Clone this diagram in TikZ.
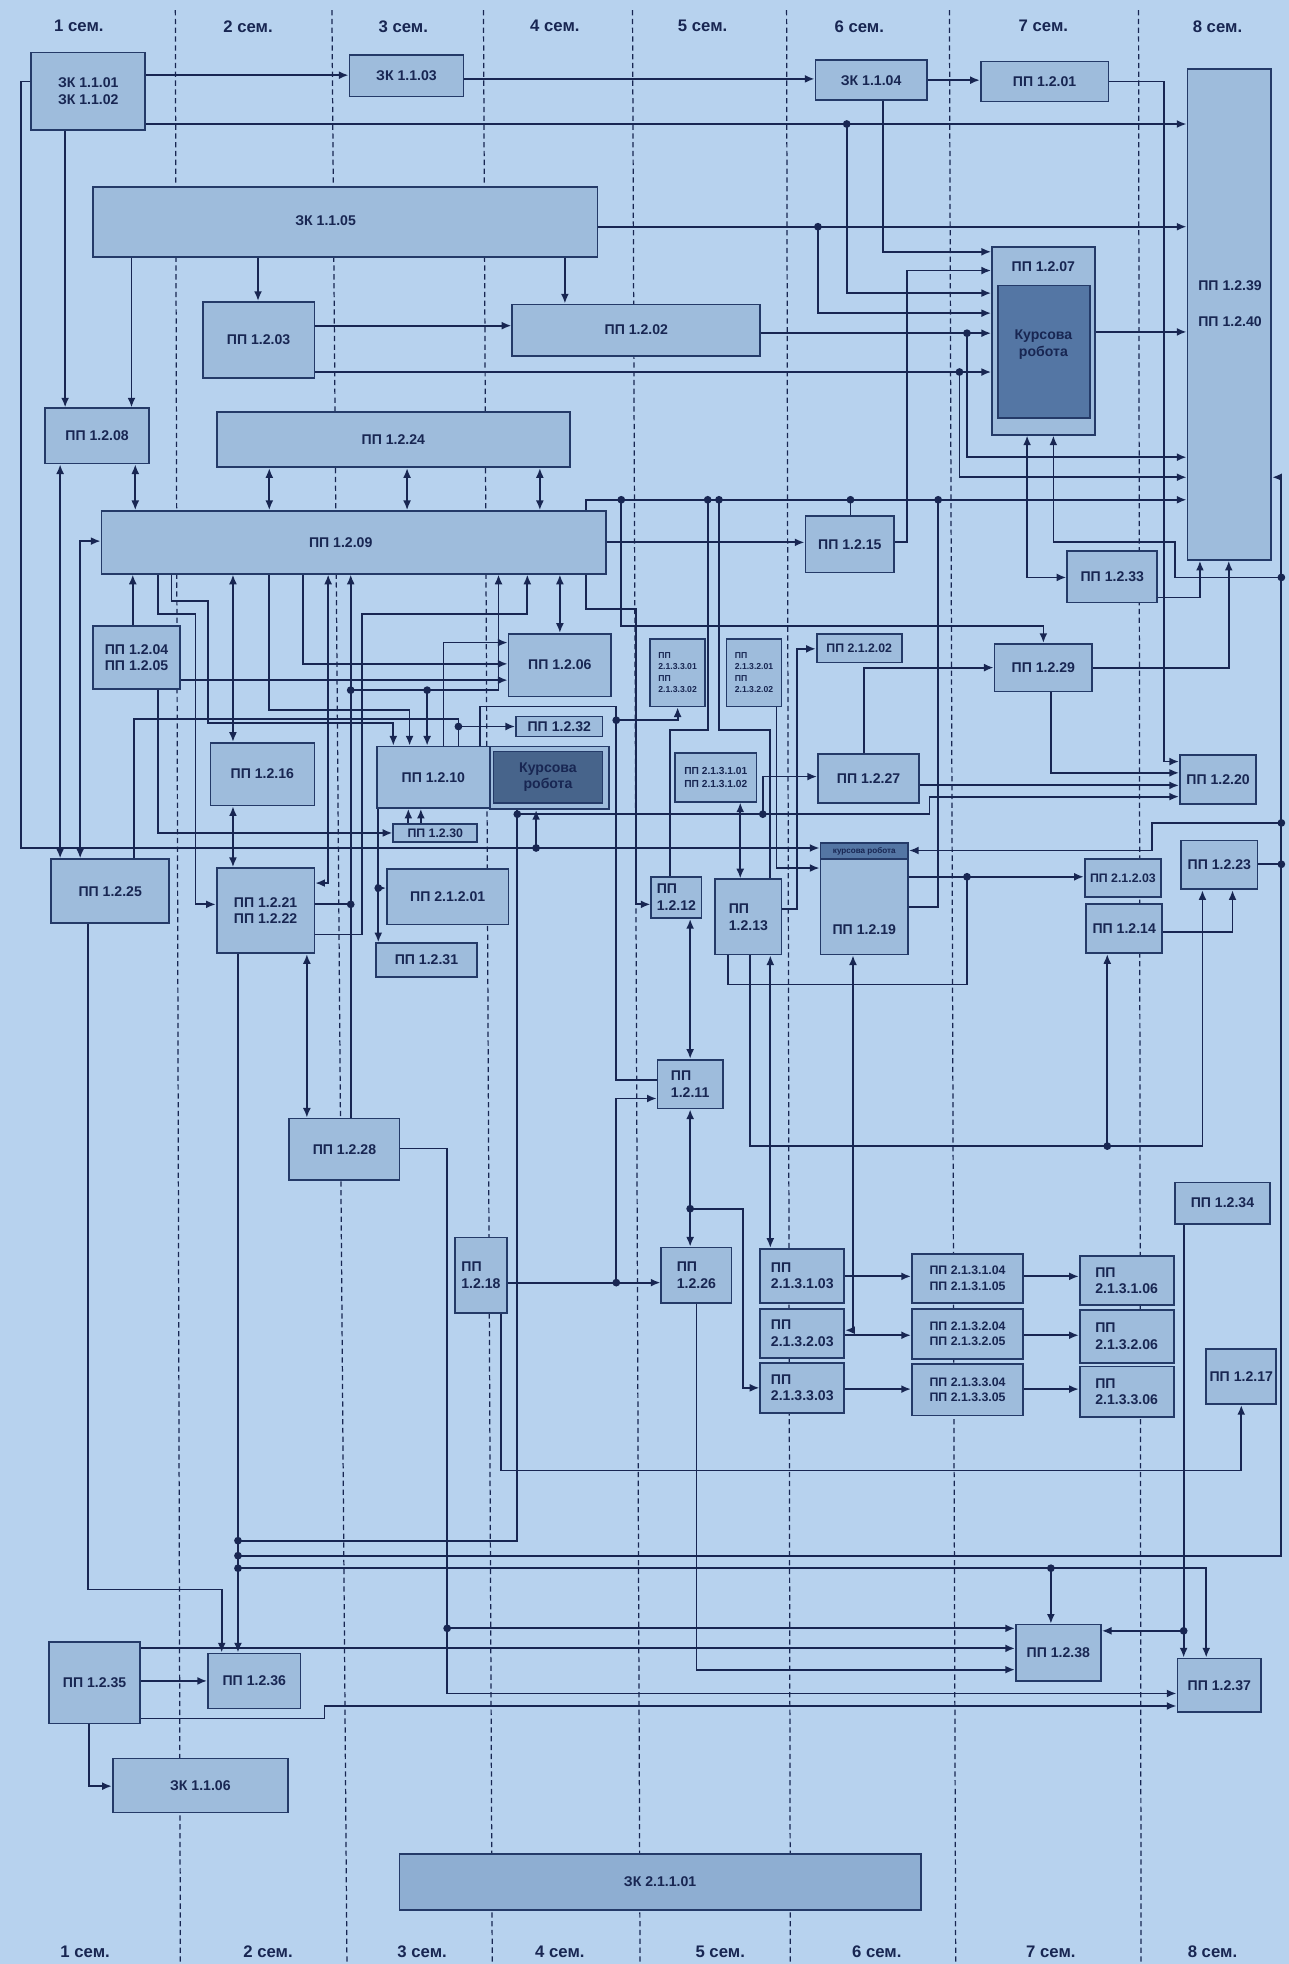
\documentclass[tikz,border=0pt]{standalone}
\usepackage{fontspec}
\setmainfont{Liberation Sans}
\usetikzlibrary{arrows.meta, fit}

\definecolor{bgc}{RGB}{183,210,238}
\definecolor{boxc}{RGB}{158,188,220}
\definecolor{edge}{RGB}{36,58,104}
\definecolor{ink}{RGB}{24,38,82}
\definecolor{kurs}{RGB}{84,118,164}
\definecolor{barc}{RGB}{142,174,210}

\tikzset{
  box/.style={draw=edge, fill=boxc, line width=1pt, inner sep=0pt},
  lbl/.style={text=ink, font=\bfseries\fontsize{8}{9.5}\selectfont, align=center, inner sep=0pt},
  fsmall/.style={font=\bfseries\fontsize{5.8}{7.2}\selectfont},
  fseven/.style={font=\bfseries\fontsize{7}{8.6}\selectfont},
  ftiny/.style={font=\bfseries\fontsize{4.9}{6.5}\selectfont},
  con/.style={draw=ink, line width=1pt},
  ar/.style={con, -{Latex[length=5.5pt,width=4.5pt]}},
  ra/.style={con, {Latex[length=5.5pt,width=4.5pt]}-},
  arr/.style={con, {Latex[length=5.5pt,width=4.5pt]}-{Latex[length=5.5pt,width=4.5pt]}},
  divider/.style={draw=ink, line width=0.7pt, dash pattern=on 3pt off 2pt},
  sem/.style={text=ink, font=\bfseries\fontsize{9.5}{11}\selectfont}
}

\begin{document}
\begin{tikzpicture}[x=0.025cm, y=-0.025cm]
  \useasboundingbox (0,0) rectangle (1029,1568);
  \fill[bgc] (0,0) rectangle (1029,1568);

  % semesters
  \foreach \a/\b in {140/144, 265/277, 386/393, 505/511, 628/631, 758/763, 909/911}
    \draw[divider] (\a,8) -- (\b,1568);
  \foreach \n/\x in {1/63, 2/198, 3/322, 4/443, 5/561, 6/686, 7/833, 8/972}
    \node[sem] (top\n) at (\x,21) {\n~сем.};
  \foreach \n/\x in {1/68, 2/214, 3/337, 4/447, 5/575, 6/700, 7/839, 8/968}
    \node[sem] (bot\n) at (\x,1558) {\n~сем.};

  % blocks
  \node[box, fit={(25,42) (116,104)}] (zk0102) {};
  \node[lbl] (zk0102t) at (zk0102) {ЗК 1.1.01\\ЗК 1.1.02};
  \node[box, fit={(279,44) (370,77)}] (zk03) {};
  \node[lbl] (zk03t) at (zk03) {ЗК 1.1.03};
  \node[box, fit={(651,48) (740,80)}] (zk04) {};
  \node[lbl] (zk04t) at (zk04) {ЗК 1.1.04};
  \node[box, fit={(783,49) (885,81)}] (pp01) {};
  \node[lbl] (pp01t) at (pp01) {ПП 1.2.01};
  \node[box, fit={(948,55) (1015,447)}] (pp3940) {};
  \node[lbl] (t39) at (982,228) {ПП 1.2.39};
  \node[lbl] (t40) at (982,257) {ПП 1.2.40};
  \node[box, fit={(74,149) (477,205)}] (zk05) {};
  \node[lbl] (zk05t) at (260,176) {ЗК 1.1.05};
  \node[box, fit={(162,241) (251,302)}] (pp03) {};
  \node[lbl] (pp03t) at (pp03) {ПП 1.2.03};
  \node[box, fit={(409,243) (607,284)}] (pp02) {};
  \node[lbl] (pp02t) at (pp02) {ПП 1.2.02};
  \node[box, fit={(792,197) (874,347)}] (pp07) {};
  \node[box, fill=kurs, fit={(797,228) (870,334)}] (pp07k) {};
  \node[lbl] (pp07kt) at (833,275) {Курсова\\робота};
  \node[lbl] (t07) at (833,213) {ПП 1.2.07};
  \node[box, fit={(36,326) (119,370)}] (pp08) {};
  \node[lbl] (pp08t) at (pp08) {ПП 1.2.08};
  \node[box, fit={(173,329) (455,373)}] (pp24) {};
  \node[lbl] (pp24t) at (pp24) {ПП 1.2.24};
  \node[box, fit={(81,408) (484,458)}] (pp09) {};
  \node[lbl] (pp09t) at (272,433) {ПП 1.2.09};
  \node[box, fit={(643,412) (714,457)}] (pp15) {};
  \node[lbl] (pp15t) at (pp15) {ПП 1.2.15};
  \node[box, fit={(852,440) (924,481)}] (pp33) {};
  \node[lbl] (pp33t) at (pp33) {ПП 1.2.33};
  \node[box, fit={(74,500) (144,550)}] (pp0405) {};
  \node[lbl] (pp0405t) at (pp0405) {ПП 1.2.04\\ПП 1.2.05};
  \node[box, fit={(406,506) (488,556)}] (pp06) {};
  \node[lbl] (pp06t) at (pp06) {ПП 1.2.06};
  \node[box, fit={(519,510) (563,564)}] (pp3301) {};
  \node[lbl, ftiny, align=left] (pp3301t) at (pp3301) {ПП\\2.1.3.3.01\\ПП\\2.1.3.3.02};
  \node[box, fit={(580,510) (624,564)}] (pp3201) {};
  \node[lbl, ftiny, align=left] (pp3201t) at (pp3201) {ПП\\2.1.3.2.01\\ПП\\2.1.3.2.02};
  \node[box, fit={(652,506) (720,529)}] (pp2202) {};
  \node[lbl, fseven] (pp2202t) at (pp2202) {ПП 2.1.2.02};
  \node[box, fit={(794,514) (872,552)}] (pp29) {};
  \node[lbl] (pp29t) at (pp29) {ПП 1.2.29};
  \node[box, fit={(168,593) (251,643)}] (pp16) {};
  \node[lbl] (pp16t) at (pp16) {ПП 1.2.16};
  \node[box, fit={(301,596) (391,645)}] (pp10) {};
  \node[lbl] (pp10t) at (pp10) {ПП 1.2.10};
  \node[box, fit={(391,596) (486,646)}] (pp10k) {};
  \node[box, fill=kurs!85!black, fit={(394,600) (481,641)}] (pp10r) {};
  \node[lbl] (pp10rt) at (pp10r) {Курсова\\робота};
  \node[box, fit={(412,572) (481,588)}] (pp32) {};
  \node[lbl] (pp32t) at (pp32) {ПП 1.2.32};
  \node[box, fit={(314,658) (381,672)}] (pp30) {};
  \node[lbl, fseven] (pp30t) at (pp30) {ПП 1.2.30};
  \node[box, fit={(539,601) (604,640)}] (pp3101) {};
  \node[lbl, fsmall] (pp3101t) at (pp3101) {ПП 2.1.3.1.01\\ПП 2.1.3.1.02};
  \node[box, fit={(653,602) (734,641)}] (pp27) {};
  \node[lbl] (pp27t) at (pp27) {ПП 1.2.27};
  \node[box, fit={(942,603) (1003,642)}] (pp20) {};
  \node[lbl] (pp20t) at (pp20) {ПП 1.2.20};
  \node[box, fit={(41,686) (135,737)}] (pp25) {};
  \node[lbl] (pp25t) at (pp25) {ПП 1.2.25};
  \node[box, fit={(173,693) (251,761)}] (pp2122) {};
  \node[lbl] (pp2122t) at (pp2122) {ПП 1.2.21\\ПП 1.2.22};
  \node[box, fit={(309,694) (406,738)}] (pp2201) {};
  \node[lbl] (pp2201t) at (pp2201) {ПП 2.1.2.01};
  \node[box, fit={(300,753) (381,780)}] (pp31) {};
  \node[lbl] (pp31t) at (pp31) {ПП 1.2.31};
  \node[box, fit={(520,700) (560,733)}] (pp12) {};
  \node[lbl, align=left] (pp12t) at (pp12) {ПП\\1.2.12};
  \node[box, fit={(571,702) (624,762)}] (pp13) {};
  \node[lbl, align=left] (pp13t) at (pp13) {ПП\\1.2.13};
  \node[box, fit={(655,686) (725,762)}] (pp19) {};
  \node[box, fill=kurs, fit={(655,673) (725,686)}] (pp19k) {};
  \node[lbl, font=\bfseries\fontsize{4.6}{5}\selectfont] (pp19kt) at (pp19k) {курсова робота};
  \node[lbl] (t19) at (690,742) {ПП 1.2.19};
  \node[box, fit={(866,686) (927,716)}] (pp2203) {};
  \node[lbl, fseven] (pp2203t) at (pp2203) {ПП 2.1.2.03};
  \node[box, fit={(943,671) (1004,710)}] (pp23) {};
  \node[lbl] (pp23t) at (pp23) {ПП 1.2.23};
  \node[box, fit={(867,722) (928,761)}] (pp14) {};
  \node[lbl] (pp14t) at (pp14) {ПП 1.2.14};
  \node[box, fit={(525,846) (577,885)}] (pp11) {};
  \node[lbl, align=left] (pp11t) at (pp11) {ПП\\1.2.11};
  \node[box, fit={(231,893) (319,942)}] (pp28) {};
  \node[lbl] (pp28t) at (pp28) {ПП 1.2.28};
  \node[box, fit={(363,988) (405,1048)}] (pp18) {};
  \node[lbl, align=left] (pp18t) at (pp18) {ПП\\1.2.18};
  \node[box, fit={(528,996) (584,1040)}] (pp26) {};
  \node[lbl, align=left] (pp26t) at (pp26) {ПП\\1.2.26};
  \node[box, fit={(607,997) (674,1040)}] (pp313) {};
  \node[lbl, align=left] (pp313t) at (pp313) {ПП\\2.1.3.1.03};
  \node[box, fit={(607,1045) (674,1084)}] (pp323) {};
  \node[lbl, align=left] (pp323t) at (pp323) {ПП\\2.1.3.2.03};
  \node[box, fit={(607,1088) (674,1128)}] (pp333) {};
  \node[lbl, align=left] (pp333t) at (pp333) {ПП\\2.1.3.3.03};
  \node[box, fit={(728,1001) (817,1040)}] (pp314) {};
  \node[lbl, fseven] (pp314t) at (pp314) {ПП 2.1.3.1.04\\ПП 2.1.3.1.05};
  \node[box, fit={(728,1045) (817,1085)}] (pp324) {};
  \node[lbl, fseven] (pp324t) at (pp324) {ПП 2.1.3.2.04\\ПП 2.1.3.2.05};
  \node[box, fit={(728,1089) (817,1130)}] (pp334) {};
  \node[lbl, fseven] (pp334t) at (pp334) {ПП 2.1.3.3.04\\ПП 2.1.3.3.05};
  \node[box, fit={(862,1003) (937,1042)}] (pp316) {};
  \node[lbl, align=left] (pp316t) at (pp316) {ПП\\2.1.3.1.06};
  \node[box, fit={(862,1046) (937,1088)}] (pp326) {};
  \node[lbl, align=left] (pp326t) at (pp326) {ПП\\2.1.3.2.06};
  \node[box, fit={(862,1091) (937,1131)}] (pp336) {};
  \node[lbl, align=left] (pp336t) at (pp336) {ПП\\2.1.3.3.06};
  \node[box, fit={(938,944) (1014,977)}] (pp34) {};
  \node[lbl] (pp34t) at (pp34) {ПП 1.2.34};
  \node[box, fit={(963,1077) (1019,1121)}] (pp17) {};
  \node[lbl] (pp17t) at (pp17) {ПП 1.2.17};
  \node[box, fit={(39,1311) (112,1376)}] (pp35) {};
  \node[lbl] (pp35t) at (pp35) {ПП 1.2.35};
  \node[box, fit={(166,1320) (240,1364)}] (pp36) {};
  \node[lbl] (pp36t) at (pp36) {ПП 1.2.36};
  \node[box, fit={(90,1404) (230,1447)}] (zk06) {};
  \node[lbl] (zk06t) at (zk06) {ЗК 1.1.06};
  \node[box, fill=barc, fit={(319,1480) (735,1525)}] (zk21) {};
  \node[lbl] (zk21t) at (zk21) {ЗК 2.1.1.01};
  \node[box, fit={(811,1297) (879,1342)}] (pp38) {};
  \node[lbl] (pp38t) at (pp38) {ПП 1.2.38};
  \node[box, fit={(940,1324) (1007,1367)}] (pp37) {};
  \node[lbl] (pp37t) at (pp37) {ПП 1.2.37};

  % top links
  \draw[ar] (zk0102.east|-0,60) -- (zk03.west|-0,60);
  \draw[ar] (zk03.east|-0,63) -- (zk04.west|-0,63);
  \draw[ar] (zk04.east|-0,64) -- (pp01.west|-0,64);
  \draw[ar] (zk0102.east|-0,99) -- (pp3940.west|-0,99);
  \draw[ar] (676,99) |- (pp07.west|-0,234);
  \draw[ar] (zk04.south-|705,0) |- (pp07.west|-0,201);
  \draw[ar] (zk05.east|-0,181) -- (pp3940.west|-0,181);
  \draw[ar] (653,181) |- (pp07.west|-0,250);
  \draw[ar] (zk0102.south-|52,0) -- (pp08.north-|52,0);
  \draw[ar] (zk05.south-|105,0) -- (pp08.north-|105,0);
  \draw[ar] (zk05.south-|206,0) -- (pp03.north-|206,0);
  \draw[ar] (zk05.south-|451,0) -- (pp02.north-|451,0);
  \draw[ar] (pp03.east|-0,260) -- (pp02.west|-0,260);
  \draw[ar] (pp02.east|-0,266) -- (pp07.west|-0,266);
  \draw[ar] (772,266) |- (pp3940.west|-0,365);
  \draw[ar] (pp03.east|-0,297) -- (pp07.west|-0,297);
  \draw[ar] (766,297) |- (pp3940.west|-0,381);
  \draw[ar] (pp07.east|-0,265) -- (pp3940.west|-0,265);
  \draw[ar] (pp01.east|-0,65) -| (929,608) -- (pp20.west|-0,608);
  \draw[ar] (pp15.east|-0,433) -| (724,216) -- (pp07.west|-0,216);
  \draw[ar] (pp09.east|-0,433) -- (pp15.west|-0,433);
  \draw[arr] (pp07.south-|820,0) |- (pp33.west|-0,461);
  \draw[ra] (pp07.south-|841,0) |- (938,433) |- (1023,461);
  \draw[ar] (pp33.east|-0,477) -| (pp3940.south-|958,0);
  \draw[ar] (pp29.east|-0,533) -| (pp3940.south-|981,0);
  \draw[ra] (pp3940.east|-0,381) -| (1023,1242) -- (190,1242);
  \draw[ar] (1023,657) -| (920,679) -- (pp19k.east|-0,679);
  \draw[con] (pp23.east|-0,690) -- (1023,690);

  % line along the top of the middle
  \draw[ar] (pp09.north-|468,0) |- (pp3940.west|-0,399);
  \draw[con] (pp19.east|-0,724) -| (749,399);
  \draw[con] (pp12.north-|535,0) |- (565,583) -- (565,399);
  \draw[con] (pp13.north-|615,0) |- (574,583) -- (574,399);
  \draw[con] (pp15.north-|679,0) -- (679,399);
  \draw[ar] (496,399) |- (833,500) -- (pp29.north-|833,0);

  % left and middle
  \draw[arr] (pp08.south-|48,0) -- (pp25.north-|48,0);
  \draw[arr] (pp08.south-|108,0) -- (pp09.north-|108,0);
  \foreach \x in {215,325,431}
    \draw[arr] (pp24.south-|\x,0) -- (pp09.north-|\x,0);
  \draw[arr] (pp09.west|-0,432) -| (pp25.north-|64,0);
  \draw[ar] (zk0102.west|-0,65) -| (17,677) -- (pp19k.west|-0,677);
  \draw[ar] (428,677) -- (pp10k.south-|428,0);
  \draw[ar] (pp0405.north-|106,0) -- (pp09.south-|106,0);
  \draw[ar] (pp0405.east|-0,543) -- (pp06.west|-0,543);
  \draw[ar] (pp0405.south-|126,0) |- (pp30.west|-0,665);
  \draw[ar] (pp09.south-|126,0) |- (156,490) |- (pp2122.west|-0,722);
  \draw[ar] (pp09.south-|137,0) |- (166,480) |- (314,577) -- (pp10.north-|314,0);
  \draw[arr] (pp09.south-|186,0) -- (pp16.north-|186,0);
  \draw[arr] (pp16.south-|186,0) -- (pp2122.north-|186,0);
  \draw[ar] (pp09.south-|215,0) |- (327,567) -- (pp10.north-|327,0);
  \draw[ar] (pp09.south-|242,0) |- (pp06.west|-0,530);
  \draw[arr] (pp09.south-|262,0) |- (pp2122.east|-0,705);
  \draw[ra] (pp09.south-|280,0) -- (pp28.north-|280,0);
  \draw[con] (pp2122.east|-0,722) -- (280,722);
  \draw[ra] (pp09.south-|398,0) |- (280,551);
  \draw[ar] (341,551) -- (pp10.north-|341,0);
  \draw[ra] (pp09.south-|421,0) |- (289,490) |- (pp2122.east|-0,746);
  \draw[arr] (pp09.south-|447,0) -- (pp06.north-|447,0);
  \draw[ar] (pp10.north-|354,0) |- (pp06.west|-0,513);
  \draw[ar] (pp25.north-|107,0) |- (366,574) |- (pp32.west|-0,580);
  \draw[con] (pp10.north-|366,0) -- (366,580);
  \draw[con] (pp10.north-|383,0) |- (492,564) |- (pp11.west|-0,862);
  \draw[ar] (492,575) -| (pp3301.south-|541,0);
  \draw[ar] (pp09.south-|468,0) |- (508,486) |- (pp12.west|-0,722);
  \draw[ar] (pp10.south-|302,0) -- (pp31.north-|302,0);
  \draw[ar] (302,709) -- (pp2201.west|-0,709);
  \draw[ar] (pp30.north-|326,0) -- (pp10.south-|326,0);
  \draw[ar] (pp30.north-|336,0) -- (pp10.south-|336,0);
  \draw[con] (pp10k.south-|413,0) |- (190,1230);
  \draw[ar] (413,650) -| (742,636) -- (pp20.west|-0,636);
  \draw[ar] (609,650) |- (pp27.west|-0,620);
  \draw[ar] (pp27.east|-0,627) -- (pp20.west|-0,627);
  \draw[ar] (pp29.south-|839,0) |- (pp20.west|-0,617);
  \draw[ar] (pp27.north-|690,0) |- (pp29.west|-0,533);
  \draw[ar] (pp13.east|-0,726) -| (636,518) -- (pp2202.west|-0,518);
  \draw[ar] (pp3201.south-|620,0) |- (pp19.west|-0,693);
  \draw[arr] (pp3101.south-|591,0) -- (pp13.north-|591,0);
  \draw[arr] (pp11.north-|551,0) -- (pp12.south-|551,0);
  \draw[arr] (pp11.south-|551,0) -- (pp26.north-|551,0);
  \draw[ar] (551,965) -| (593,1108) -- (pp333.west|-0,1108);
  \draw[arr] (pp13.south-|615,0) -- (pp313.north-|615,0);
  \draw[ar] (pp13.south-|599,0) |- (960,915) -- (pp23.south-|960,0);
  \draw[ar] (884,915) -- (pp14.south-|884,0);
  \draw[ar] (pp14.east|-0,744) -| (pp23.south-|984,0);
  \draw[con] (pp13.south-|581,0) |- (772,786) -- (772,700);
  \draw[ar] (pp19.east|-0,700) -- (pp2203.west|-0,700);
  \draw[arr] (pp19.south-|681,0) |- (pp323.east|-0,1062);
  \foreach \y/\a/\b/\c in {1019/pp313/pp314/pp316, 1066/pp323/pp324/pp326, 1109/pp333/pp334/pp336} {
    \draw[ar] (\a.east|-0,\y) -- (\b.west|-0,\y);
    \draw[ar] (\b.east|-0,\y) -- (\c.west|-0,\y);
  }

  % lower part
  \draw[ar] (pp18.east|-0,1024) -- (pp26.west|-0,1024);
  \draw[ar] (492,1024) |- (pp11.west|-0,877);
  \draw[ar] (pp18.south-|400,0) |- (991,1174) -- (pp17.south-|991,0);
  \draw[arr] (pp2122.south-|245,0) -- (pp28.north-|245,0);
  \draw[ar] (pp28.east|-0,917) -| (357,1352) -- (pp37.west|-0,1352);
  \draw[ar] (357,1300) -- (pp38.west|-0,1300);
  \draw[ar] (pp26.south-|556,0) |- (pp38.west|-0,1333);
  \draw[ar] (pp35.east|-0,1316) -- (pp38.west|-0,1316);
  \draw[ar] (pp35.east|-0,1342) -- (pp36.west|-0,1342);
  \draw[ar] (pp35.east|-0,1372) -| (259,1362) -- (pp37.west|-0,1362);
  \draw[ar] (pp35.south-|71,0) |- (zk06.west|-0,1426);
  \draw[ar] (pp25.south-|70,0) |- (177,1269) -- (pp36.north-|177,0);
  \draw[ar] (pp2122.south-|190,0) -- (pp36.north-|190,0);
  \draw[ar] (190,1252) -| (pp37.north-|963,0);
  \draw[ar] (839,1252) -- (pp38.north-|839,0);
  \draw[ar] (pp34.south-|945,0) -- (pp37.north-|945,0);
  \draw[ar] (945,1302) -- (pp38.east|-0,1302);

  % junction dots
  \foreach \p in {(676,99), (653,181), (772,266), (766,297), (1023,461), (1023,657),
      (1023,690), (190,1242), (749,399), (565,399), (574,399), (679,399), (496,399),
      (428,677), (280,722), (280,551), (341,551), (366,580), (492,575), (302,709),
      (190,1230), (413,650), (609,650), (551,965), (884,915), (772,700), (492,1024),
      (357,1300), (190,1252), (839,1252), (945,1302)}
    \fill[ink] \p circle (2.2pt);
\end{tikzpicture}
\end{document}
